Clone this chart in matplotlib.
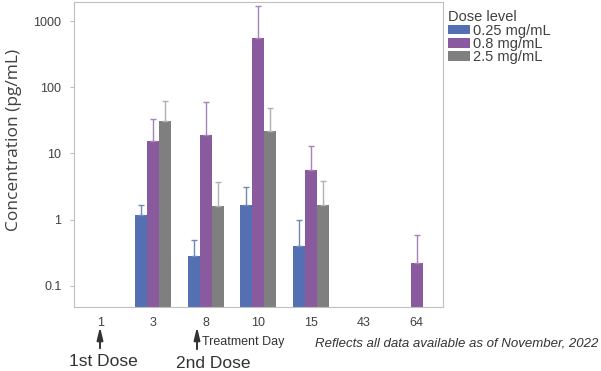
import matplotlib.pyplot as plt
import numpy as np

plt.rcParams['font.family'] = ['Liberation Sans', 'DejaVu Sans']

days = ['1', '3', '8', '10', '15', '43', '64']
doses = ['0.25 mg/mL', '0.8 mg/mL', '2.5 mg/mL']
colors = ['#5470b3', '#8a5a9e', '#7f7f7f']
err_colors = ['#7088b5', '#a684b3', '#b0b0b0']

# mean concentration per day (nan = no data) and upper error
low_vals = [np.nan, 1.16, 0.285, 1.65, 0.394, np.nan, np.nan]
low_err = [np.nan, 0.51, 0.205, 1.43, 0.61, np.nan, np.nan]
mid_vals = [np.nan, 15.6, 18.9, 559, 5.66, np.nan, 0.218]
mid_err = [np.nan, 18.0, 41.0, 1110, 7.5, np.nan, 0.372]
high_vals = [np.nan, 30.5, 1.59, 22.0, 1.65, np.nan, np.nan]
high_err = [np.nan, 32.5, 2.17, 27.0, 2.2, np.nan, np.nan]

series_vals = [low_vals, mid_vals, high_vals]
series_err = [low_err, mid_err, high_err]

fig = plt.figure(figsize=(6.01, 3.71), dpi=100)
ax = fig.add_axes([0.123, 0.1725, 0.614, 0.822])

x = np.arange(len(days))
w = 0.228
for i in range(3):
    v = np.array(series_vals[i])
    e = np.array(series_err[i])
    ax.bar(x + (i - 1) * w, v, w, color=colors[i], label=doses[i],
           yerr=[np.zeros_like(e), e], error_kw=dict(ecolor=err_colors[i], elinewidth=1, capsize=2.2, capthick=1))

ax.set_yscale('log')
ax.set_ylim(0.048, 1940)
ax.set_xlim(-0.5, 6.5)
ax.set_yticks([0.1, 1, 10, 100, 1000])
ax.set_yticklabels(['0.1', '1', '10', '100', '1000'])
ax.minorticks_off()
ax.set_xticks(x)
ax.set_xticklabels(days)
ax.tick_params(axis='y', length=3, color='#bfbfbf', labelsize=9, labelcolor='#404040', pad=6)
ax.tick_params(axis='x', length=0, labelsize=9, labelcolor='#404040', pad=7)
for s in ax.spines.values():
    s.set_color('#bfbfbf')

fig.text(0.024, 0.623, 'Concentration (pg/mL)', rotation=90, ha='center', va='center',
         fontsize=12.5, color='#404040', family='Open Sans')

leg = fig.legend(loc='upper left', bbox_to_anchor=(0.746, 0.972), frameon=False, title='Dose level',
                 fontsize=10.5, title_fontsize=10.5, handlelength=1.5, handleheight=0.65,
                 handletextpad=0.2, labelspacing=-0.05, borderaxespad=0, borderpad=0)
leg._legend_box.align = 'left'
for t in leg.get_texts():
    t.set_color('#404040')
leg.get_title().set_color('#404040')

# dose arrows
arrow = dict(arrowstyle='-|>,head_width=0.18,head_length=0.75', color='#333333', lw=1.4)
ax.annotate('', xy=(100 / 601, 1 - 324 / 371), xytext=(100 / 601, 1 - 351 / 371),
            xycoords='figure fraction', arrowprops=arrow)
ax.annotate('', xy=(197 / 601, 1 - 324 / 371), xytext=(197 / 601, 1 - 352 / 371),
            xycoords='figure fraction', arrowprops=arrow)
fig.text(103 / 601, 1 - 361 / 371, '1st Dose', ha='center', va='center', fontsize=12.5, color='#333333')
fig.text(213 / 601, 1 - 364 / 371, '2nd Dose', ha='center', va='center', fontsize=12.5, color='#333333')
fig.text(202 / 601, 1 - 342 / 371, 'Treatment Day', ha='left', va='center', fontsize=9, color='#333333')
fig.text(598 / 601, 1 - 343 / 371, 'Reflects all data available as of November, 2022', ha='right',
         va='center', fontsize=9.5, style='italic', color='#333333')

fig.savefig('out.png', dpi=100)
